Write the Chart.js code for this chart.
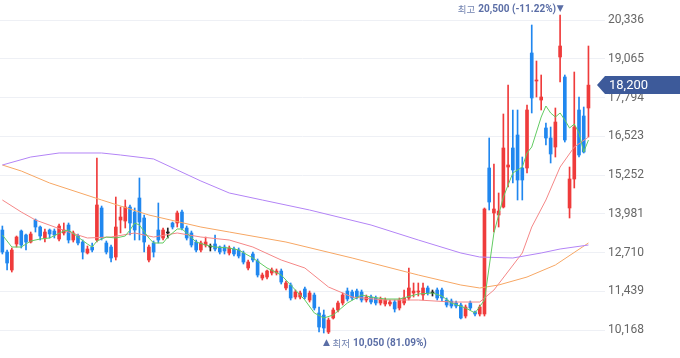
<!DOCTYPE html>
<html><head><meta charset="utf-8">
<script src="https://cdn.jsdelivr.net/npm/chart.js@4"></script>
<style>html,body{margin:0;padding:0;background:#fff}#wrap{width:680px;height:358px;position:relative}</style>
</head><body><div id="wrap"><canvas id="c" width="680" height="358"></canvas></div>
<script>
const opens=[13448,12726,12136,12989,13415,13284,13054,13776,13546,13186,
13448,13415,13153,13350,13612,13120,13251,13054,12694,12890,
13120,14170,13022,12890,12562,13776,13743,14202,14038,14498,
13842,12464,13022,13448,13186,13350,13678,13678,14038,13514,
13350,13054,12792,12956,12890,12989,12890,12890,12694,12825,
12792,12694,12202,12661,12431,11874,11906,12038,12038,12103,
11546,11644,11250,11250,11513,11152,11316,10726,10660,10102,
10562,10824,11054,11447,11414,11447,11414,11152,11250,11218,
11054,11021,11021,11086,10890,11054,11218,11382,11414,11316,
11546,11382,11480,11480,11152,11119,11054,10988,10627,11054,
10758,10693,10693,15482,14006,13940,14202,15514,16138,16564,
15482,15482,19254,18335,17712,16794,16466,16170,19122,18466,
14170,15121,17384,17187,17450];
const highs=[13579,12792,12858,13251,13448,13317,13382,13809,13579,13481,
13481,13481,13645,13678,13678,13415,13317,13120,12923,13022,
15810,14235,13087,12956,14530,14202,14432,14268,14170,15154,
13940,12956,13087,14334,13514,13514,13710,14071,14104,13579,
13415,13120,13087,13218,12989,13284,12923,12956,12923,12890,
12858,12759,12464,12726,12497,12038,12136,12202,12169,12169,
11775,11710,11480,11447,11578,11447,11382,10922,10824,10562,
10890,11119,11382,11546,11480,11513,11480,11316,11316,11283,
11250,11218,11152,11152,11218,11480,12202,11710,11710,11710,
11611,11480,11546,11546,11218,11185,11119,11054,10988,11119,
10791,10988,14170,16466,15613,14662,17253,18204,17384,17384,
15842,17548,20172,18991,18532,16958,16826,17450,20500,18532,
15514,18630,17810,17482,19483];
const lows=[12661,12136,12070,12890,12858,12792,13022,13382,13120,13054,
13186,13186,13087,13284,13022,13054,12956,12497,12661,12726,
13054,13120,12661,12398,12464,13350,13514,13284,13120,13120,
12726,12398,12562,13022,13120,13186,13481,13546,13448,13120,
12890,12726,12726,12890,12759,12759,12661,12661,12628,12595,
12530,12333,12136,12398,11906,11808,11841,11972,11972,11677,
11480,11152,11185,11185,11185,11086,10824,10102,10070,10050,
10529,10758,10988,11119,11152,11185,11086,11086,11021,10988,
10988,10955,10955,10758,10824,10988,11152,11250,11283,11152,
11316,11283,11152,11119,10922,10890,10890,10529,10562,10824,
10627,10627,10627,14104,13382,13546,14170,14858,14990,14432,
14432,15318,17286,17810,17384,16236,15646,15842,18302,16334,
13842,14826,15842,15974,16498];
const closes=[12726,12366,12792,13218,12956,13054,13317,13546,13251,13382,
13317,13284,13579,13448,13120,13350,13022,12726,12825,12792,
14268,13186,12726,12530,13546,13874,14202,13678,13448,13710,
13054,12890,12726,13120,13448,13350,13546,14006,13514,13186,
12956,12792,13022,13054,12890,12825,12726,12759,12858,12661,
12595,12398,12398,12464,11972,11972,12103,12136,12103,11742,
11710,11218,11414,11382,11250,11382,10890,10266,10234,10496,
10824,11054,11316,11185,11218,11250,11152,11250,11086,11054,
11185,11152,11086,10857,11152,11218,11546,11447,11447,11546,
11382,11382,11218,11218,10988,10955,10955,10562,10922,10890,
10693,10922,14137,14366,14137,14071,16138,15580,15416,15088,
15088,17384,17778,18368,17810,16466,15941,16990,19483,16400,
15121,16826,15908,16006,18200];

// moving averages: [candle index, value]
const ma5=[[0,13284],[2,12890],[4,12890],[6,13087],[8,13153],[10,13186],[13,13415],[14,13448],[16,13218],[18,12989],[19,12890],[20,13087],[22,13218],[24,13186],
[26,13251],[27,13448],[28,13678],[29,13612],[31,13186],[32,13022],[34,13022],[35,13218],[37,13481],[38,13481],[39,13350],[41,13054],[43,12956],[45,12890],[48,12858],
[50,12792],[53,12530],[56,12202],[59,11972],[62,11480],[64,11152],[66,10726],[68,10562],[70,10660],[73,11054],[76,11316],[78,11250],[81,11185],[84,11185],[88,11349],[91,11382],[93,11283],[95,11054],[98,10890],[100,10726],[102,11152],
[104,13350],[106,14530],[108,15318],[110,15514],[111,15974],[112,16170],[114,17154],[115,17515],[116,17286],[117,17154],[118,17286],[119,17056],[120,16794],[121,16925],[122,16630],[123,16006],[124,16400]];
const ma20=[[0,14432],[4,14038],[7,13776],[14,13382],[18,13186],[23,13218],[28,13350],[32,13218],[37,13350],[42,13218],[48,13120],[53,12890],[59,12464],[64,12202],[69,11578],[74,11250],[81,11152],[88,11152],[95,11086],[101,11086],[104,11480],[110,12694],[112,13546],[115,14432],[118,15514],[121,16170],[124,16498]];
const ma60=[[0,15580],[4,15383],[10,14990],[21,14432],[31,13940],[42,13546],[48,13382],[60,13054],[74,12530],[88,11972],[97,11644],[101,11546],[105,11644],[111,11906],[117,12300],[124,13022]];
const ma120=[[0,15580],[6,15842],[12,15974],[21,15974],[25,15908],[32,15777],[37,15416],[42,15055],[48,14662],[55,14432],[65,14104],[78,13612],[88,13120],[97,12694],[101,12562],[108,12530],[114,12694],[118,12825],[124,12956]];

const yTicks=[10168,11439,12710,13981,15252,16523,17794,19065,20336];
const lastPrice=18200;
const highMark={index:118,value:20500,pct:'-11.22%'};
const lowMark={index:69,value:10050,pct:'81.09%'};
const padSlots=3;

const labels=opens.map((_,i)=>'D'+(i+1)).concat(Array.from({length:padSlots},(_,k)=>'P'+k));
const UP='#ef3b3b', DOWN='#2087ef', FLAT='#222222';
const col=opens.map((o,i)=>closes[i]>o?UP:(closes[i]<o?DOWN:FLAT));
const bodies=opens.map((o,i)=>[Math.min(o,closes[i]),Math.max(o,closes[i])]);
const wicks=lows.map((l,i)=>[l,highs[i]]);
const fmt=v=>v.toLocaleString('en-US');

function maLine(pts,color,order){
  return {type:'line',data:pts.map(([i,v])=>({x:labels[i],y:v})),borderColor:color,borderWidth:1,
    pointRadius:0,tension:0,fill:false,order:order};
}

const annot={
  id:'annot',
  afterDraw(chart){
    const ctx=chart.ctx, xs=chart.scales.x, ys=chart.scales.y;
    ctx.save();
    // price tag
    const py=ys.getPixelForValue(lastPrice);
    const ca=chart.chartArea;
    ctx.fillStyle='#3d5a9a';
    ctx.beginPath();
    ctx.moveTo(ca.right-8,py);
    ctx.lineTo(ca.right,py-9);
    ctx.lineTo(chart.width,py-9);
    ctx.lineTo(chart.width,py+9);
    ctx.lineTo(ca.right,py+9);
    ctx.closePath();
    ctx.fill();
    ctx.fillStyle='#ffffff';
    ctx.font='13px Roboto';
    ctx.textBaseline='middle';
    ctx.textAlign='left';
    ctx.fillText(fmt(lastPrice),ca.right+4,py+0.5);

    // high mark
    const hx=xs.getPixelForValue(highMark.index);
    const ty=9;
    ctx.fillStyle='#5b6ea6';
    ctx.font='9px "DejaVu Sans"';
    ctx.textAlign='center';
    ctx.fillText('\u25BC',hx,ty);
    ctx.textAlign='right';
    ctx.font='bold 10px Roboto';
    const hTxt=fmt(highMark.value)+' ('+highMark.pct+')';
    ctx.fillText(hTxt,hx-4,ty);
    const hw=ctx.measureText(hTxt).width;
    ctx.font='9.5px "Noto Sans CJK KR"';
    ctx.fillStyle='#7182b0';
    ctx.fillText('최고',hx-4-hw-3,ty);

    // low mark
    const lx=xs.getPixelForValue(lowMark.index);
    const by=343;
    ctx.fillStyle='#5b6ea6';
    ctx.font='9px "DejaVu Sans"';
    ctx.textAlign='center';
    ctx.fillText('\u25B2',lx-2,by);
    ctx.textAlign='left';
    ctx.font='9.5px "Noto Sans CJK KR"';
    ctx.fillStyle='#7182b0';
    ctx.fillText('최저',lx+4,by);
    const kw=ctx.measureText('최저').width;
    ctx.font='bold 10px Roboto';
    ctx.fillStyle='#5b6ea6';
    ctx.fillText(fmt(lowMark.value)+' ('+lowMark.pct+')',lx+4+kw+3,by);
    ctx.restore();
  }
};

new Chart(document.getElementById('c'),{
  type:'bar',
  data:{labels:labels,datasets:[
    maLine(ma120,'#b384f6',1),
    maLine(ma60,'#f7a764',1),
    maLine(ma20,'#f58787',1),
    maLine(ma5,'#62cb62',0),
    {type:'bar',data:wicks,backgroundColor:col,barThickness:1,grouped:false,order:3},
    {type:'bar',data:bodies,backgroundColor:col,barThickness:3,grouped:false,minBarLength:1,order:2}
  ]},
  options:{
    responsive:false,animation:false,devicePixelRatio:1,
    layout:{padding:0,autoPadding:false},
    plugins:{legend:{display:false},tooltip:{enabled:false}},
    scales:{
      x:{display:false,offset:true},
      y:{position:'right',min:9250,max:20992,
        afterBuildTicks:s=>{s.ticks=yTicks.map(v=>({value:v}));},
        afterFit:s=>{s.width=75;s.paddingTop=0;s.paddingBottom=0;},
        grid:{color:'#eef0f5',drawTicks:false},
        border:{display:false},
        ticks:{padding:3,color:'#666666',font:{family:'Roboto',size:12},callback:v=>fmt(v)}
      }
    }
  },
  plugins:[annot]
});
</script></body></html>
